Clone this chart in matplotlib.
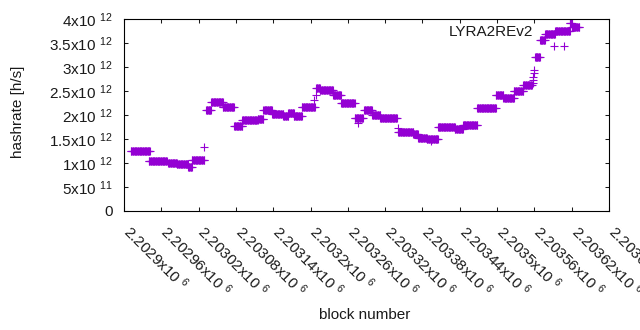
import numpy as np
import matplotlib
matplotlib.use('Agg')
import matplotlib.pyplot as plt
from matplotlib.transforms import ScaledTranslation

plt.rcParams['font.family'] = ['Liberation Sans', 'DejaVu Sans']
plt.rcParams['mathtext.fontset'] = 'custom'
plt.rcParams['mathtext.rm'] = 'Liberation Sans'
plt.rcParams['mathtext.it'] = 'Liberation Sans'
plt.rcParams['mathtext.default'] = 'regular'

# runs of blocks with (roughly) constant hashrate, values in 1e12 h/s
seg_start = [2202911, 2202940, 2202971, 2202985, 2203003, 2203009, 2203032, 2203040,
             2203059, 2203077, 2203090, 2203115, 2203124, 2203138, 2203156, 2203164,
             2203173, 2203186, 2203209, 2203215, 2203236, 2203249, 2203271, 2203286,
             2203299, 2203312, 2203341, 2203365, 2203373, 2203387, 2203405, 2203432,
             2203445, 2203468, 2203498, 2203510, 2203527, 2203542, 2203561, 2203569,
             2203577, 2203593, 2203617, 2203620]
seg_end = [2202942, 2202969, 2202985, 2203003, 2203009, 2203029, 2203040, 2203059,
           2203077, 2203090, 2203115, 2203124, 2203138, 2203156, 2203164, 2203173,
           2203186, 2203207, 2203215, 2203236, 2203249, 2203271, 2203284, 2203299,
           2203312, 2203339, 2203365, 2203373, 2203387, 2203405, 2203432, 2203445,
           2203468, 2203498, 2203510, 2203527, 2203542, 2203556, 2203569, 2203577,
           2203593, 2203617, 2203620, 2203632]
seg_value = [1.24, 1.04, 0.99, 0.97, 0.91, 1.07, 2.11, 2.27,
             2.16, 1.77, 1.89, 1.91, 2.11, 2.02, 1.98, 2.05,
             1.98, 2.16, 2.57, 2.53, 2.41, 2.24, 1.93, 2.10,
             1.99, 1.93, 1.65, 1.60, 1.53, 1.50, 1.75, 1.71,
             1.80, 2.15, 2.41, 2.35, 2.51, 2.62, 3.20, 3.56,
             3.68, 3.74, 3.92, 3.83]

# single stray points
extra_block = [2203029, 2203206, 2203208, 2203276, 2203340, 2203394,
               2203558, 2203558, 2203558, 2203559, 2203559, 2203592, 2203608]
extra_value = [1.33, 2.31, 2.42, 1.83, 1.73, 1.45,
               2.67, 2.73, 2.80, 2.87, 2.94, 3.44, 3.44]

xtick_pos = [2202900, 2202960, 2203020, 2203080, 2203140, 2203200, 2203260,
             2203320, 2203380, 2203440, 2203500, 2203560, 2203620, 2203680]
xtick_lab = ['2.2029', '2.20296', '2.20302', '2.20308', '2.20314', '2.2032', '2.20326',
             '2.20332', '2.20338', '2.20344', '2.2035', '2.20356', '2.20362', '2.20368']
ytick_pos = [0, 0.5e12, 1e12, 1.5e12, 2e12, 2.5e12, 3e12, 3.5e12, 4e12]
ytick_lab = ['0', '5x10 $^{11}$', '1x10 $^{12}$', '1.5x10 $^{12}$', '2x10 $^{12}$',
             '2.5x10 $^{12}$', '3x10 $^{12}$', '3.5x10 $^{12}$', '4x10 $^{12}$']

blocks = []
rates = []
for s, e, v in zip(seg_start, seg_end, seg_value):
    b = np.arange(s, e + 1)
    blocks.append(b)
    rates.append(np.full(len(b), v * 1e12))
blocks.append(np.array(extra_block))
rates.append(np.array(extra_value) * 1e12)
blocks = np.concatenate(blocks)
rates = np.concatenate(rates)

fig = plt.figure(figsize=(6.4, 3.3), dpi=100)
ax = fig.add_axes([124/640, 1-211/330, 485/640, 192/330])

ax.plot(blocks, rates, '+', color='#9400D3', ms=5.5, mew=0.8, ls='none')

ax.set_xlim(2202900, 2203680)
ax.set_ylim(0, 4e12)
ax.set_xticks(xtick_pos)
ax.set_xticklabels([l + 'x10 $^{6}$' for l in xtick_lab], rotation=-45,
                   ha='left', va='top', rotation_mode='anchor')
ax.set_yticks(ytick_pos)
ax.set_yticklabels(ytick_lab)
ax.tick_params(direction='in', top=True, right=True, length=3.2, width=0.75,
               labelsize=11, colors='#1a1a1a')
ax.tick_params(axis='y', pad=8)
ax.tick_params(axis='x', pad=8)
shift = ScaledTranslation(0.09, 0, fig.dpi_scale_trans)
for lab in ax.get_xticklabels():
    lab.set_transform(lab.get_transform() + shift)
for sp in ax.spines.values():
    sp.set_linewidth(0.8)

ax.text(0.843, 0.932, 'LYRA2REv2', transform=ax.transAxes, ha='right', va='center',
        fontsize=11, color='#1a1a1a')
fig.text(18/640, 1-112/330, 'hashrate [h/s]', rotation=90, ha='center', va='center',
         fontsize=11, color='#1a1a1a')
fig.text(365/640, 1-315/330, 'block number', ha='center', va='center',
         fontsize=11, color='#1a1a1a')

fig.savefig('out.png', dpi=100)
